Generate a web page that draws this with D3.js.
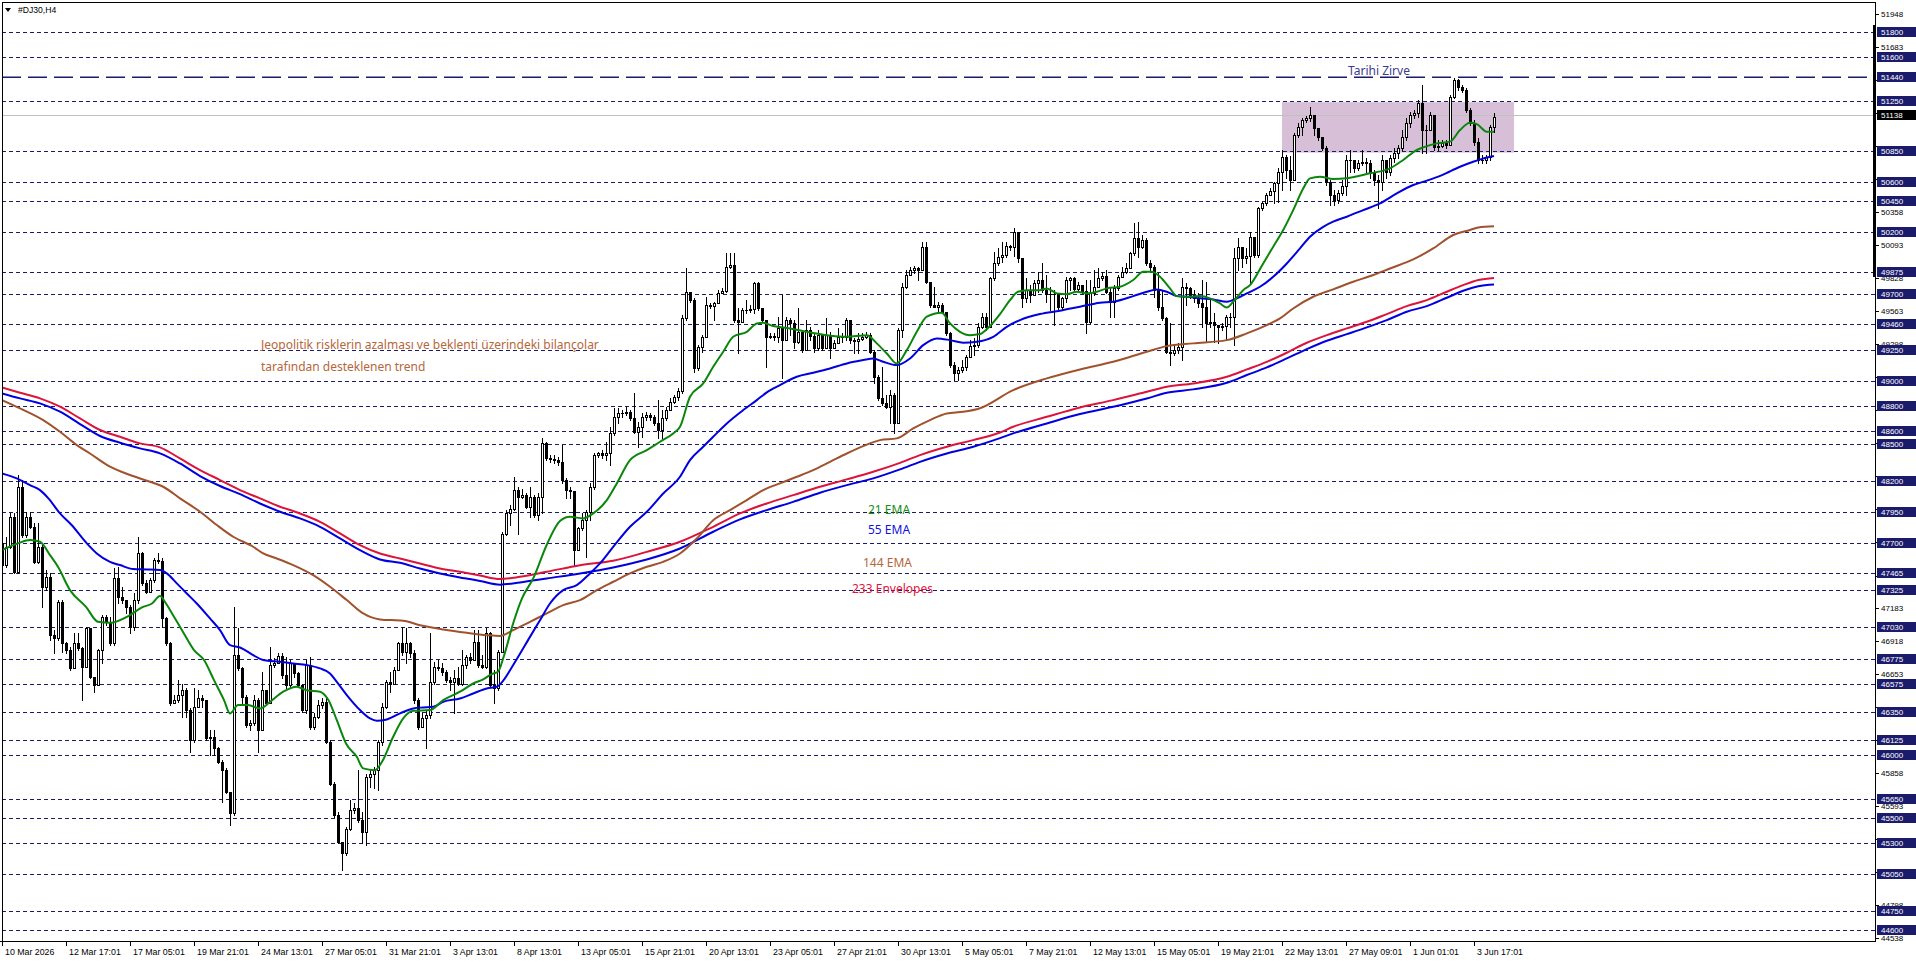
<!DOCTYPE html>
<html><head><meta charset="utf-8">
<script src="https://cdn.jsdelivr.net/npm/d3@7"></script>
<style>
html,body{margin:0;padding:0;background:#fff;overflow:hidden}
svg{display:block}
</style></head><body>
<svg id="c" width="1916" height="963"></svg>
<script>
// ---------------- DATA ----------------
const symbolTitle = "#DJ30,H4";
const firstOpen = 47701;
const closes = [
47527,47674,47914,47473,48155,47767,47914,47834,47553,47674,
47353,47433,46965,46938,47233,46898,46845,46698,46898,46858,
46711,47019,46631,46564,46845,47112,47072,46898,47420,47273,
47246,47192,47032,47246,47620,47380,47313,47406,47567,47561,
47099,46898,46417,46444,46484,46524,46364,46123,46390,46457,
46444,46136,46150,46056,45949,45882,45708,45535,46805,46698,
46471,46243,46257,46444,46203,46524,46417,46725,46738,46797,
46644,46564,46743,46658,46564,46364,46725,46230,46310,46404,
46430,46109,45775,45521,45307,45214,45414,45561,45575,45481,
45388,45829,45855,45882,46109,46390,46591,46577,46684,46898,
46831,46898,46818,46444,46230,46297,46323,46591,46711,46698,
46671,46604,46591,46618,46577,46725,46791,46765,46912,46725,
46711,46979,46564,46537,46831,47780,47941,47973,48128,48075,
48088,47994,48075,47928,48075,48502,48382,48374,48369,48355,
48208,48128,48123,47647,47821,47887,47954,48155,48409,48422,
48409,48422,48583,48716,48743,48748,48756,48703,48596,48636,
48716,48730,48716,48663,48609,48703,48770,48837,48871,48925,
49505,49719,49652,49104,49278,49358,49612,49604,49625,49706,
49727,49920,49933,49492,49478,49572,49572,49577,49786,49585,
49492,49358,49363,49358,49425,49331,49492,49465,49318,49398,
49251,49412,49363,49265,49371,49265,49371,49265,49305,49358,
49358,49492,49331,49326,49337,49358,49371,49238,49037,48863,
48823,48797,48890,48663,49412,49759,49853,49893,49906,49893,
50080,49799,49612,49599,49612,49559,49385,49131,49064,49090,
49117,49198,49283,49291,49438,49519,49438,49826,49946,50000,
50013,50085,50080,50200,49986,49666,49732,49692,49786,49813,
49732,49700,49700,49700,49593,49666,49813,49826,49738,49772,
49727,49478,49706,49759,49826,49845,49719,49639,49746,49839,
49879,49906,50027,50147,50080,50133,49952,49920,49732,49599,
49505,49238,49224,49251,49278,49759,49746,49692,49666,49625,
49599,49465,49478,49452,49433,49444,49518,49518,49986,50080,
49986,50005,50160,50013,50388,50428,50494,50529,50588,50682,
50800,50695,50615,50976,51040,51096,51113,51137,51032,50960,
50872,50599,50495,50455,50511,50567,50776,50776,50711,50752,
50760,50752,50679,50615,50599,50776,50679,50792,50832,50872,
50960,51072,51137,51153,51233,51016,51016,51137,50880,50888,
50912,50896,51281,51417,51361,51337,51177,51072,50920,50776,
50776,50800,51040,51121];
const highs = [
47754,47754,47941,47941,48249,48209,47955,47955,47861,47861,
47701,47487,47460,47005,47246,47246,46912,46872,46979,46979,
46872,47032,47019,46631,46850,47126,47126,47112,47500,47513,
47353,47246,47206,47299,47754,47634,47406,47420,47580,47620,
47580,47112,46912,46484,46604,46577,46537,46377,46537,46524,
46484,46444,46203,46203,46069,45962,45896,45708,47192,47019,
46711,46484,46283,46484,46457,46671,46524,46872,46778,46818,
46818,46791,46765,46738,46671,46577,46765,46791,46337,46444,
46457,46457,46123,45789,45548,45267,45428,45642,45615,45882,
45548,45855,45882,45909,46123,46417,46604,46671,46711,46912,
47032,47019,46912,46845,46457,46337,46364,46979,46751,46765,
46738,46684,46631,46684,46711,46845,46805,46818,47005,47005,
46805,47019,46992,46684,46845,47794,47968,48008,48235,48155,
48141,48101,48155,48088,48101,48543,48516,48409,48409,48395,
48489,48222,48155,47780,47834,47941,47968,48182,48422,48436,
48449,48516,48636,48783,48783,48770,48797,48770,48903,48676,
48743,48756,48743,48730,48850,48770,48797,48864,48890,48944,
49532,49906,49719,49666,49291,49371,49679,49625,49639,49732,
49746,50027,50027,50027,49585,49585,49652,49612,49799,49799,
49585,49492,49385,49385,49519,49692,49519,49505,49492,49585,
49412,49492,49438,49385,49412,49331,49505,49398,49331,49425,
49385,49505,49492,49345,49385,49385,49398,49385,49251,49051,
49117,48890,48930,48903,49425,49786,49893,49920,49925,49920,
50120,50120,49799,49759,49639,49625,49559,49398,49158,49117,
49171,49211,49331,49345,49465,49545,49545,49839,50040,50067,
50120,50120,50093,50227,50200,49986,49826,49772,49813,49879,
49946,49853,49759,49732,49612,49679,49839,49839,49839,49799,
49772,49813,49813,49893,49906,49879,49893,49759,49772,49853,
49920,49946,50040,50267,50281,50174,50147,49973,49933,49866,
49732,49518,49465,49291,49305,49826,49786,49759,49732,49706,
49813,49799,49652,49545,49452,49465,49532,49545,50067,50147,
50053,50067,50200,50160,50401,50441,50508,50548,50601,50708,
50856,50816,50808,50992,51072,51113,51129,51201,51137,50984,
50952,50888,50615,50535,50535,50615,50816,50856,50736,50776,
50856,50792,50776,50695,50655,50816,50776,50816,50872,50896,
51016,51113,51161,51177,51257,51377,51056,51161,51056,50936,
50936,50936,51297,51433,51425,51377,51353,51193,51096,50952,
50816,50816,51056,51153];
const lows = [
47500,47513,47660,47460,47460,47754,47754,47821,47540,47540,
47192,47326,46925,46818,46925,46831,46818,46684,46711,46845,
46444,46711,46618,46511,46831,46738,47045,46885,46885,47219,
47219,47139,46979,47005,47219,47366,47299,47313,47393,47540,
47032,46885,46404,46417,46430,46310,46310,46029,46109,46390,
46390,46123,46003,46003,45936,45628,45695,45441,45521,46684,
46417,46230,46203,46243,46029,46203,46404,46671,46711,46738,
46618,46537,46551,46631,46551,46350,46337,46216,46216,46297,
46377,46096,45762,45508,45294,45080,45200,45401,45535,45468,
45294,45281,45748,45735,45722,46083,46377,46511,46577,46684,
46805,46738,46791,46417,46216,46230,46056,46297,46577,46684,
46644,46591,46524,46337,46564,46564,46698,46738,46791,46711,
46698,46698,46551,46417,46524,47179,47767,47847,47968,47780,
48061,47981,47914,47914,47887,47941,48369,48355,48342,48329,
48182,48061,48061,47526,47714,47807,47593,47887,48141,48395,
48382,48369,48329,48569,48663,48716,48730,48690,48583,48476,
48556,48690,48690,48649,48543,48529,48690,48783,48823,48850,
48903,49492,49639,49077,49090,49238,49358,49585,49492,49625,
49706,49719,49906,49478,49224,49478,49545,49559,49545,49572,
49478,49117,49345,49331,49318,49024,49358,49371,49265,49305,
49238,49251,49331,49238,49251,49251,49278,49184,49265,49331,
49318,49331,49305,49224,49224,49331,49345,49224,48984,48850,
48810,48783,48663,48583,48890,49358,49746,49866,49866,49813,
49893,49786,49599,49593,49545,49545,49371,49117,49010,49010,
49077,49090,49198,49211,49278,49425,49412,49438,49813,49933,
49960,50000,50053,50005,49960,49599,49639,49639,49706,49719,
49719,49639,49572,49452,49572,49572,49639,49732,49719,49732,
49706,49385,49465,49692,49772,49813,49706,49518,49518,49732,
49839,49866,49906,50013,50000,50067,49933,49893,49679,49572,
49492,49224,49131,49211,49230,49171,49612,49666,49639,49599,
49438,49318,49438,49318,49305,49412,49331,49438,49291,49893,
49920,49946,49786,49999,49999,50374,50414,50502,50428,50441,
50535,50631,50535,50816,50960,50976,51080,51088,50976,50936,
50856,50575,50415,50415,50431,50495,50495,50679,50679,50695,
50736,50679,50631,50575,50391,50535,50631,50655,50760,50792,
50856,50936,51040,51113,51121,50832,50832,51040,50856,50856,
50880,50872,50896,51273,51337,51321,51161,51056,50896,50752,
50752,50752,50776,51003];

const dateLabels = ["10 Mar 2026","12 Mar 17:01","17 Mar 05:01","19 Mar 21:01","24 Mar 13:01","27 Mar 05:01","31 Mar 21:01","3 Apr 13:01","8 Apr 13:01","13 Apr 05:01","15 Apr 21:01","20 Apr 13:01","23 Apr 05:01","27 Apr 21:01","30 Apr 13:01","5 May 05:01","7 May 21:01","12 May 13:01","15 May 05:01","19 May 21:01","22 May 13:01","27 May 09:01","1 Jun 01:01","3 Jun 17:01"];
const barsPerLabel = 16;

const axisTicks = [51948,51683,51418,51153,50888,50623,50358,50093,49828,49563,49298,49033,48768,48503,48238,47973,47708,47443,47183,46918,46653,46388,46123,45858,45593,45328,45063,44798,44538];
const levelLines = [51800,51600,51250,50850,50600,50450,50200,49875,49700,49460,49250,49000,48800,48600,48500,48200,47950,47700,47465,47325,47030,46775,46575,46350,46125,46000,45650,45500,45300,45050,44750,44600];
const athLevel = 51440;
const athLabel = "Tarihi Zirve";
const bidPrice = 51138;
const zoneStart = 320, zoneEnd = 378, zoneTop = 51240, zoneBottom = 50835;

const noteLines = ["Jeopolitik risklerin azalması ve beklenti üzerindeki bilançolar","tarafından desteklenen trend"];
const legendNames = ["21 EMA","55 EMA","144 EMA","233 Envelopes"];

const ema21 = [[0,47647],[4,47701],[7,47727],[9.5,47714],[12,47607],[14,47513],[17,47326],[21,47192],[24,47072],[27,47064],[32,47126],[35,47187],[37.5,47219],[39.5,47278],[41,47219],[43,47112],[45,47005],[48,46845],[50.5,46765],[53,46604],[55.5,46444],[57,46337],[59,46404],[61.5,46404],[64.5,46377],[67,46430],[70.3,46511],[73.7,46551],[76,46524],[79.5,46511],[81.6,46444],[83.7,46283],[86,46096],[88.7,45989],[90.3,45896],[93.2,45882],[95,45949],[97.8,46150],[100.3,46297],[102.8,46358],[107,46364],[110.3,46444],[114.5,46511],[117.8,46577],[120.3,46610],[122.4,46652],[124,46671],[125.5,46800],[127.8,47060],[130,47260],[132.8,47420],[136.2,47690],[139.5,47880],[142,47914],[145.3,47901],[147.8,47941],[151.2,48048],[153.7,48182],[157,48369],[161.2,48449],[164.5,48516],[167.8,48583],[169.5,48636],[172,48877],[175.3,48984],[177.8,49117],[180.3,49238],[182.8,49358],[186.2,49398],[188.7,49465],[190.3,49470],[192.8,49444],[197,49425],[201.2,49398],[206.2,49371],[211.2,49358],[216.2,49371],[218.7,49305],[221.2,49224],[223.7,49144],[226.2,49251],[228.7,49398],[231.2,49519],[234.9,49551],[237,49465],[239.5,49398],[242,49371],[244.5,49380],[247,49445],[249.5,49540],[252,49652],[254,49719],[256.2,49732],[259.5,49732],[261.2,49746],[263.7,49706],[266.2,49700],[268.7,49719],[271.2,49706],[273.7,49719],[276.2,49746],[279.5,49759],[282.8,49813],[285.3,49879],[287.4,49879],[289.5,49839],[292,49746],[293.7,49684],[296.2,49679],[299.5,49684],[302,49666],[304.5,49625],[306.2,49593],[307.8,49639],[310.3,49732],[312,49772],[315.3,49946],[317.8,50080],[320.3,50214],[322.8,50374],[325.3,50548],[327,50628],[329.5,50642],[332.8,50623],[336.2,50629],[342,50669],[347,50709],[350.3,50776],[353.7,50856],[355.3,50877],[358.7,50909],[362,50923],[364.5,51016],[367,51075],[368.7,51064],[371.2,51003],[373,51003]];
const ema55 = [[0,48262],[3.7,48222],[7,48168],[9.5,48128],[11.6,48062],[14.5,47941],[17.4,47848],[21.2,47701],[23.7,47620],[27,47553],[29.5,47527],[32.8,47495],[36.2,47492],[39.5,47487],[41.2,47460],[43.7,47380],[46.2,47299],[48.7,47219],[52,47099],[54.5,47005],[57,46885],[59.5,46866],[62.8,46805],[65.3,46765],[69.5,46751],[72.8,46738],[76.2,46725],[79.5,46698],[82,46658],[83.7,46591],[86.2,46484],[89.5,46364],[92,46297],[93.7,46278],[96.2,46289],[99.5,46337],[102.8,46377],[105.3,46385],[107.8,46390],[110.3,46430],[114.5,46457],[117.8,46497],[121.2,46537],[123.7,46551],[125.3,46600],[127.8,46725],[132,46951],[134.5,47085],[137,47219],[140.3,47326],[143.7,47366],[147,47460],[149.5,47540],[152.8,47673],[157,47834],[161.2,47954],[165.3,48101],[169.5,48235],[172,48369],[175.3,48476],[177.8,48556],[181.2,48663],[185.3,48770],[188.7,48850],[191.2,48912],[194.5,48970],[198.7,49037],[202.8,49069],[207,49104],[211.2,49144],[215.3,49171],[217.8,49184],[220.3,49158],[223.7,49131],[227,49184],[230.3,49291],[233.7,49345],[237,49331],[240.3,49310],[243.7,49318],[247.8,49358],[251.2,49438],[254.5,49492],[259.5,49540],[264.5,49567],[269.5,49599],[274.5,49631],[277.8,49639],[282.8,49684],[286.2,49719],[288.7,49738],[291.2,49719],[293.7,49684],[296.2,49679],[299.5,49666],[302.8,49657],[306.2,49639],[308.7,49666],[311.2,49706],[314.5,49759],[317.8,49839],[321.2,49946],[324.5,50067],[327,50160],[330.3,50240],[332.8,50281],[336.2,50321],[340.3,50374],[344.5,50428],[348.7,50508],[352.8,50575],[356.2,50610],[360,50655],[364.5,50722],[367.8,50762],[370,50785],[373,50808]];
const ema144 = [[0,48850],[4.5,48784],[10.3,48690],[14.5,48596],[18.7,48489],[22,48422],[27,48316],[32,48249],[37,48195],[40.3,48155],[44.5,48062],[49.5,47955],[53.7,47848],[57.8,47754],[62.8,47674],[65.3,47620],[68.7,47580],[72.8,47527],[77.8,47446],[82,47353],[86.2,47246],[90.3,47139],[94.5,47091],[100.3,47080],[104.5,47045],[110.3,47011],[116.2,46984],[121.2,46965],[124.5,46958],[127.8,47005],[132,47072],[136.2,47139],[140.3,47206],[144.5,47246],[148.7,47326],[152.8,47393],[157,47460],[161.2,47513],[165.3,47553],[169.5,47620],[173.7,47740],[177.8,47887],[182,47968],[186.2,48048],[190.3,48128],[194.5,48182],[198.7,48235],[202.8,48289],[207,48355],[211.2,48422],[215.3,48481],[219.5,48529],[223.7,48543],[227.8,48623],[232,48690],[236.2,48743],[240.3,48756],[244.5,48785],[252.8,48930],[261.2,49024],[269.5,49096],[277.8,49157],[286.2,49238],[291.2,49283],[297.8,49305],[306.2,49331],[311.2,49385],[316.2,49452],[319.5,49505],[322.8,49585],[327.8,49679],[332.8,49738],[337.8,49799],[342.8,49853],[347,49906],[352.8,49978],[357.8,50067],[362.8,50174],[367,50214],[369.1,50235],[373,50245]];
const env233Upper = [[0,48952],[4.5,48909],[9.5,48864],[14.5,48797],[19.5,48703],[24.5,48610],[29.5,48556],[34.5,48503],[39.5,48471],[44.5,48382],[49.5,48289],[54.5,48209],[59.5,48128],[64.5,48062],[69.5,47995],[74.5,47941],[79.5,47874],[84.5,47781],[89.5,47687],[94.5,47620],[99.5,47580],[104.5,47540],[109.5,47500],[114.5,47473],[119.5,47443],[124.5,47415],[129.5,47433],[136.2,47473],[144.5,47526],[152.8,47561],[161.2,47633],[169.5,47714],[177.8,47834],[184.5,47941],[191.2,48021],[197.8,48088],[204.5,48155],[211.2,48214],[217.8,48275],[224.5,48347],[229.5,48409],[236.2,48476],[242.8,48529],[249.5,48590],[252.8,48636],[261.2,48716],[269.5,48791],[277.8,48850],[286.2,48917],[291.2,48957],[297.8,48984],[306.2,49037],[311.2,49096],[316.2,49157],[321.2,49230],[326.2,49310],[331.2,49371],[336.2,49425],[341.2,49478],[346.2,49540],[351.2,49604],[356.2,49652],[361.2,49719],[365.3,49772],[369.1,49813],[373,49830]];
const env233Lower = [[0,48904],[4.5,48864],[9.5,48824],[14.5,48757],[19.5,48658],[24.5,48562],[29.5,48508],[34.5,48463],[39.5,48423],[44.5,48342],[49.5,48241],[54.5,48161],[59.5,48096],[64.5,48021],[69.5,47955],[74.5,47901],[79.5,47834],[84.5,47741],[89.5,47647],[94.5,47572],[99.5,47545],[104.5,47500],[109.5,47460],[114.5,47428],[119.5,47400],[124.5,47370],[129.5,47388],[136.2,47420],[144.5,47460],[152.8,47508],[161.2,47572],[169.5,47660],[177.8,47794],[184.5,47893],[191.2,47968],[197.8,48034],[204.5,48107],[211.2,48168],[217.8,48222],[224.5,48294],[229.5,48355],[236.2,48422],[242.8,48476],[249.5,48545],[252.8,48583],[261.2,48663],[269.5,48738],[277.8,48796],[286.2,48863],[291.2,48909],[297.8,48936],[306.2,48989],[311.2,49051],[316.2,49112],[321.2,49184],[326.2,49259],[331.2,49326],[336.2,49379],[341.2,49433],[346.2,49492],[351.2,49559],[356.2,49604],[361.2,49671],[365.3,49727],[369.1,49764],[373,49778]];

// ---------------- DRAW ----------------
const svg = d3.select("#c");
const axisFont = '"Liberation Sans", Arial, sans-serif';
const textFont = '"Noto Sans", "Open Sans", sans-serif';
const plot = {left: 2, top: 2, right: 1875, bottom: 941};
const x = d3.scaleLinear().domain([0, 100]).range([2, 402]);   // 4 px per bar
const y = d3.scaleLinear().domain([44600, 51800]).range([930, 32.3]);
const navy = "#1b1b6b";

svg.append("rect").attr("width", 1916).attr("height", 963).attr("fill", "#fff");
svg.append("defs").append("clipPath").attr("id", "clip")
  .append("rect").attr("x", plot.left).attr("y", plot.top)
  .attr("width", plot.right - plot.left).attr("height", plot.bottom - plot.top);
const g = svg.append("g").attr("clip-path", "url(#clip)");

// zone rectangle
g.append("rect")
  .attr("x", x(zoneStart)).attr("width", x(zoneEnd) - x(zoneStart))
  .attr("y", y(zoneTop)).attr("height", y(zoneBottom) - y(zoneTop))
  .attr("fill", "#d8bfd8");

// dashed levels
g.selectAll("line.lvl").data(levelLines).join("line").attr("class", "lvl")
  .attr("x1", plot.left).attr("x2", plot.right)
  .attr("y1", d => Math.round(y(d)) + 0.5).attr("y2", d => Math.round(y(d)) + 0.5)
  .attr("stroke", navy).attr("stroke-width", 1).attr("stroke-dasharray", "4,3")
  .attr("shape-rendering", "crispEdges");

// ATH line
g.append("line").attr("x1", plot.left).attr("x2", plot.right)
  .attr("y1", y(athLevel)).attr("y2", y(athLevel))
  .attr("stroke", navy).attr("stroke-width", 1.4).attr("stroke-dasharray", "19,7");
g.append("text").attr("x", 1348).attr("y", y(athLevel) - 7)
  .attr("font-family", textFont).attr("font-size", 12).attr("fill", "#3c3c8e")
  .attr("dominant-baseline", "central").text(athLabel);

// bid line
g.append("line").attr("x1", plot.left).attr("x2", plot.right)
  .attr("y1", Math.round(y(bidPrice)) + 0.5).attr("y2", Math.round(y(bidPrice)) + 0.5)
  .attr("stroke", "#c0c0c0").attr("stroke-width", 1).attr("shape-rendering", "crispEdges");

// candles
const n = Math.min(closes.length, highs.length, lows.length);
const bars = d3.range(n).map(i => {
  const o = i === 0 ? firstOpen : closes[i - 1];
  const c = closes[i];
  return {i, o, c, h: Math.max(highs[i], o, c), l: Math.min(lows[i], o, c)};
});
const cg = g.append("g").attr("shape-rendering", "crispEdges");
bars.forEach(b => {
  const cx = Math.round(x(b.i));
  cg.append("line").attr("x1", cx + 0.5).attr("x2", cx + 0.5)
    .attr("y1", Math.round(y(b.h))).attr("y2", Math.round(y(b.l)) + 1)
    .attr("stroke", "#000").attr("stroke-width", 1);
  const top = Math.round(y(Math.max(b.o, b.c)));
  const bot = Math.round(y(Math.min(b.o, b.c)));
  if (bot - top < 1) {
    cg.append("line").attr("x1", cx - 1).attr("x2", cx + 2)
      .attr("y1", top + 0.5).attr("y2", top + 0.5).attr("stroke", "#000");
  } else {
    cg.append("rect").attr("x", cx - 0.5).attr("y", top + 0.5)
      .attr("width", 2).attr("height", bot - top)
      .attr("fill", b.c >= b.o ? "#fff" : "#000").attr("stroke", "#000").attr("stroke-width", 1);
  }
});

// indicator lines
const line = d3.line().x(d => x(d[0])).y(d => y(d[1])).curve(d3.curveMonotoneX);
const series = [
  {d: env233Lower, c: "#0000e0"},
  {d: env233Upper, c: "#dc143c"},
  {d: ema144, c: "#a0522d"},
  {d: ema55, c: "#0000e0"},
  {d: ema21, c: "#0a870a"}
];
series.forEach(s => g.append("path").attr("d", line(s.d)).attr("fill", "none")
  .attr("stroke", s.c).attr("stroke-width", 2).attr("stroke-linejoin", "round"));

// note text
const noteColor = "#b5673a";
noteLines.forEach((t, i) => g.append("text").attr("x", 261).attr("y", 344 + i * 22)
  .attr("font-family", textFont).attr("font-size", 12).attr("fill", noteColor)
  .attr("dominant-baseline", "central").text(t));

// legend texts
const legendCfg = [
  {x: 868, y: 509, c: "#178c17"},
  {x: 868, y: 529, c: "#1010e0"},
  {x: 863, y: 562, c: "#b5673a"},
  {x: 852, y: 588, c: "#e0143c"}
];
legendNames.forEach((t, i) => g.append("text").attr("x", legendCfg[i].x).attr("y", legendCfg[i].y)
  .attr("font-family", textFont).attr("font-size", 12).attr("fill", legendCfg[i].c)
  .attr("dominant-baseline", "central").text(t));

// frame
svg.append("path")
  .attr("d", `M${plot.left + 0.5},${plot.bottom} V${plot.top + 0.5} H${plot.right + 0.5} V${plot.bottom + 0.5}`)
  .attr("fill", "none").attr("stroke", "#000").attr("shape-rendering", "crispEdges");
svg.append("line").attr("x1", 0).attr("x2", plot.right + 1)
  .attr("y1", plot.bottom + 0.5).attr("y2", plot.bottom + 0.5)
  .attr("stroke", "#000").attr("shape-rendering", "crispEdges");
svg.append("rect").attr("x", 1873).attr("y", 25).attr("width", 3).attr("height", 252).attr("fill", "#000");

// title
svg.append("path").attr("d", "M5,8 L11,8 L8,12 Z").attr("fill", "#000");
svg.append("text").attr("x", 18).attr("y", 10).attr("font-family", axisFont).attr("font-size", 8.6)
  .attr("fill", "#000").attr("dominant-baseline", "central").text(symbolTitle);

// right axis plain ticks (those hidden under a level box are skipped)
const boxedValues = levelLines.concat([athLevel, bidPrice]);
const ra = svg.append("g");
axisTicks.forEach(v => {
  const yy = Math.round(y(v)) + 0.5;
  ra.append("line").attr("x1", plot.right + 1).attr("x2", plot.right + 4).attr("y1", yy).attr("y2", yy)
    .attr("stroke", "#000").attr("shape-rendering", "crispEdges");
  const hidden = boxedValues.some(b => Math.abs(y(b) - y(v)) < 5.5);
  if (!hidden) {
    ra.append("text").attr("x", 1881).attr("y", yy).attr("font-family", axisFont).attr("font-size", 8)
      .attr("fill", "#000").attr("dominant-baseline", "central").text(v);
  }
});
// boxed level labels
levelLines.concat([athLevel]).forEach(v => {
  const yy = y(v);
  ra.append("rect").attr("x", 1877).attr("y", Math.round(yy) - 5).attr("width", 39).attr("height", 10).attr("fill", navy);
  ra.append("text").attr("x", 1881).attr("y", Math.round(yy) + 0.5).attr("font-family", axisFont).attr("font-size", 8)
    .attr("fill", "#fff").attr("dominant-baseline", "central").text(v);
});
{
  const yy = y(bidPrice);
  ra.append("rect").attr("x", 1877).attr("y", Math.round(yy) - 5).attr("width", 39).attr("height", 10).attr("fill", "#000");
  ra.append("text").attr("x", 1881).attr("y", Math.round(yy) + 0.5).attr("font-family", axisFont).attr("font-size", 8)
    .attr("fill", "#fff").attr("dominant-baseline", "central").text(bidPrice);
}

// bottom axis
const ba = svg.append("g");
dateLabels.forEach((t, i) => {
  const px = Math.round(x(i * barsPerLabel)) + 0.5;
  ba.append("line").attr("x1", px).attr("x2", px).attr("y1", plot.bottom + 1).attr("y2", plot.bottom + 5)
    .attr("stroke", "#000").attr("shape-rendering", "crispEdges");
  ba.append("text").attr("x", px + 2.5).attr("y", 952).attr("font-family", axisFont).attr("font-size", 8.8)
    .attr("fill", "#000").attr("dominant-baseline", "central").text(t);
});
</script>
</body></html>
